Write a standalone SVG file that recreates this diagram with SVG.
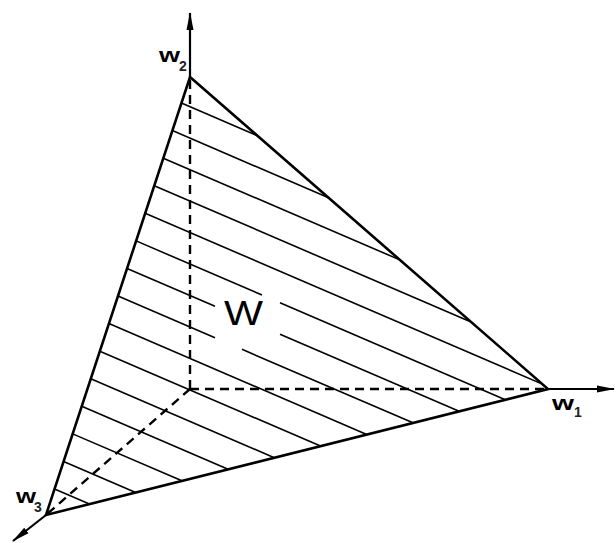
<svg xmlns="http://www.w3.org/2000/svg" width="616" height="543" viewBox="0 0 616 543">
<defs>
<style>
.edge{stroke:#000;stroke-width:2.6;fill:none;stroke-linejoin:miter}
.axis{stroke:#000;stroke-width:2.2;fill:none}
.dash{stroke:#000;stroke-width:2.4;fill:none;stroke-dasharray:9 6}
.hatch{stroke:#000;stroke-width:1.6;fill:none}
.lbl{font-family:"Liberation Sans",Arial,sans-serif;font-weight:bold;fill:#000}
.sub{font-family:"Liberation Sans",Arial,sans-serif;font-weight:bold;fill:#222}
.big{font-family:"Liberation Sans",Arial,sans-serif;fill:#000}
</style>
<marker id="arr" viewBox="0 0 18 9" refX="17" refY="4.5" markerWidth="18" markerHeight="9" markerUnits="userSpaceOnUse" orient="auto">
<path d="M0,1 L18,4.5 L0,8 Z" fill="#000"/>
</marker>
</defs>
<rect width="616" height="543" fill="#fff"/>
<g id="connectors">
<path class="axis" d="M190,77 L190,13" marker-end="url(#arr)"/>
<path class="axis" d="M548,389 L614,389" marker-end="url(#arr)"/>
<path class="axis" d="M46,515 L13,541" marker-end="url(#arr)"/>
<path class="dash" d="M190,389 L190,77"/>
<path class="dash" d="M190,389 L548,389"/>
<path class="dash" d="M190,389 L46,515"/>
</g>
<g id="hatching">
<path class="hatch" d="M181.44,103.02 L257.27,135.63"/>
<path class="hatch" d="M172.38,130.59 L328.55,197.75"/>
<path class="hatch" d="M163.31,158.17 L399.83,259.87"/>
<path class="hatch" d="M154.25,185.74 L471.11,321.99"/>
<path class="hatch" d="M145.18,213.31 L542.39,384.11"/>
<path class="hatch" d="M136.12,240.88 L262,295.01 M280,302.75 L505.36,399.65"/>
<path class="hatch" d="M127.05,268.45 L215,306.27 M280,334.22 L459.15,411.25"/>
<path class="hatch" d="M117.99,296.02 L215,337.74 M242,349.35 L412.94,422.85"/>
<path class="hatch" d="M108.92,323.59 L366.72,434.45"/>
<path class="hatch" d="M99.85,351.17 L320.51,446.05"/>
<path class="hatch" d="M90.79,378.74 L274.3,457.65"/>
<path class="hatch" d="M81.72,406.31 L228.09,469.25"/>
<path class="hatch" d="M72.66,433.88 L181.88,480.85"/>
<path class="hatch" d="M63.59,461.45 L135.67,492.45"/>
<path class="hatch" d="M54.53,489.02 L89.46,504.05"/>
</g>
<g id="region-W">
<path class="edge" d="M190,77 L548,389 L46,515 Z"/>
<text class="big" x="224" y="325" font-size="35" textLength="39" lengthAdjust="spacingAndGlyphs">W</text>
</g>
<g id="node-w2">
<text class="lbl" x="159" y="62" font-size="20" textLength="21" lengthAdjust="spacingAndGlyphs">w</text>
<text class="sub" x="179" y="71" font-size="14">2</text>
</g>
<g id="node-w1">
<text class="lbl" x="552" y="410" font-size="20" textLength="22" lengthAdjust="spacingAndGlyphs">w</text>
<text class="sub" x="574" y="417" font-size="14">1</text>
</g>
<g id="node-w3">
<text class="lbl" x="16" y="503" font-size="20" textLength="20" lengthAdjust="spacingAndGlyphs">w</text>
<text class="sub" x="34" y="512" font-size="14">3</text>
</g>
</svg>
